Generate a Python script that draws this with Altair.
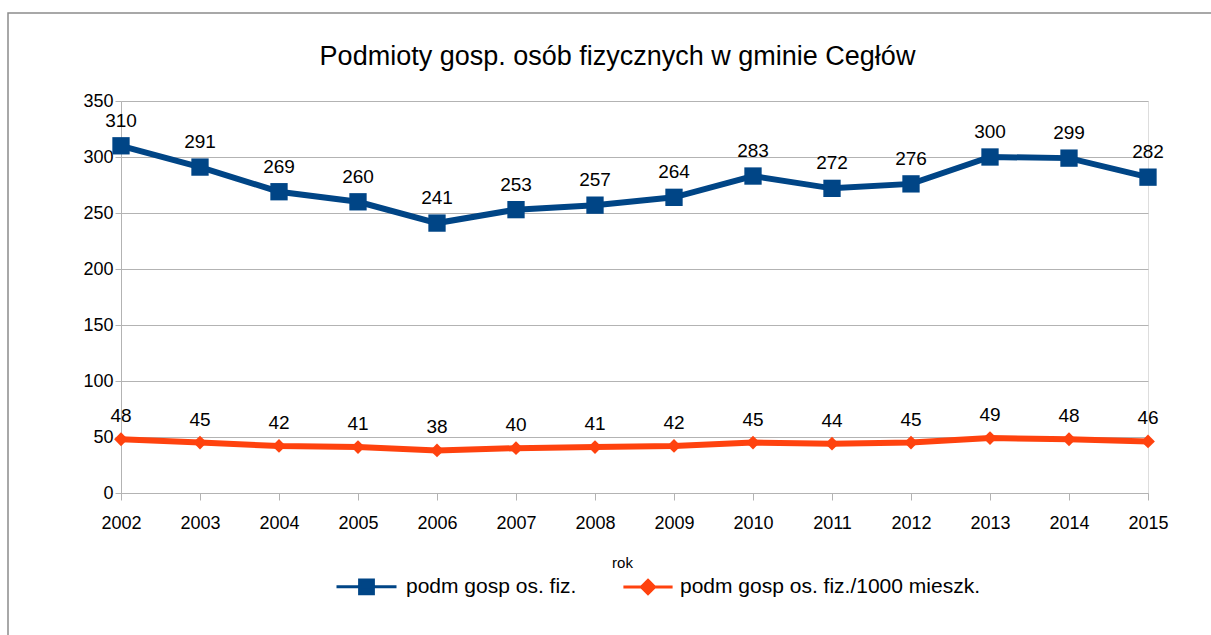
import altair as alt
import pandas as pd

# Economic entities run by natural persons, Cegłów commune
years = [2002, 2003, 2004, 2005, 2006, 2007, 2008, 2009, 2010, 2011, 2012, 2013, 2014, 2015]
entities = [310, 291, 269, 260, 241, 253, 257, 264, 283, 272, 276, 300, 299, 282]
entities_per_1000 = [48, 45, 42, 41, 38, 40, 41, 42, 45, 44, 45, 49, 48, 46]

series_names = ["podm gosp os. fiz.", "podm gosp os. fiz./1000 mieszk."]
series_colors = ["#004586", "#ff420e"]
# legend glyphs: a line segment with the series marker on it
legend_glyphs = [
    "M-1,0H1M-0.23,-0.23H0.23V0.23H-0.23Z",
    "M-0.57,0H1.07M0.25,-0.22L0.47,0L0.25,0.22L0.03,0Z",
]
y_ticks = [0, 50, 100, 150, 200, 250, 300, 350]

FONT = "Liberation Sans"

rows = []
for yr, a, b in zip(years, entities, entities_per_1000):
    rows.append({"rok": str(yr), "value": a, "series": series_names[0]})
    rows.append({"rok": str(yr), "value": b, "series": series_names[1]})
df = pd.DataFrame(rows)

PLOT_W, PLOT_H = 1027, 392

x = alt.X(
    "rok:O",
    scale=alt.Scale(type="point", padding=0),
    axis=alt.Axis(
        title="rok",
        titleFont=FONT,
        titleFontSize=15,
        titleFontWeight="normal",
        titleColor="#000000",
        titleX=501,
        titleY=69,
        titleBaseline="middle",
        labelFont=FONT,
        labelFontSize=18,
        labelColor="#000000",
        labelAngle=0,
        labelPadding=14,
        tickSize=7,
        tickColor="#b3b3b3",
        domainColor="#b3b3b3",
        grid=False,
    ),
)

y = alt.Y(
    "value:Q",
    scale=alt.Scale(domain=[0, 350], nice=False),
    axis=alt.Axis(
        title=None,
        values=y_ticks,
        labelFont=FONT,
        labelFontSize=18,
        labelColor="#000000",
        labelPadding=2,
        tickSize=6,
        tickColor="#b3b3b3",
        domainColor="#b3b3b3",
        gridColor="#b3b3b3",
        gridWidth=1,
    ),
)

base = alt.Chart(df).encode(x=x, y=y)

s0 = base.transform_filter(alt.datum.series == series_names[0])
s1 = base.transform_filter(alt.datum.series == series_names[1])

line0 = s0.mark_line(strokeWidth=6, color=series_colors[0])
line1 = s1.mark_line(strokeWidth=6, color=series_colors[1])
squares = s0.mark_point(shape="square", filled=True, size=300, opacity=1, color=series_colors[0])
diamonds = s1.mark_point(shape="diamond", filled=True, size=190, opacity=1, color=series_colors[1])

text_style = dict(font=FONT, fontSize=19, color="#000000", baseline="middle")
labels0 = s0.mark_text(dy=-25, **text_style).encode(text=alt.Text("value:Q"))
labels1 = s1.mark_text(dy=-23, **text_style).encode(text=alt.Text("value:Q"))

# legend-only layer: no rows survive the filter, scales carry explicit domains
legend_kw = dict(
    title=None,
    orient="none",
    legendX=214,
    legendY=454,
    direction="horizontal",
    columns=2,
    columnPadding=32,
    padding=0,
    labelFont=FONT,
    labelFontSize=21,
    labelColor="#000000",
    labelOffset=8,
    labelLimit=600,
    symbolSize=3600,
    symbolStrokeWidth=3,
    symbolOpacity=1,
)
legend_layer = base.transform_filter("false").mark_point(opacity=1, strokeWidth=3).encode(
    fill=alt.Fill("series:N", scale=alt.Scale(domain=series_names, range=series_colors),
                  legend=alt.Legend(**legend_kw)),
    stroke=alt.Stroke("series:N", scale=alt.Scale(domain=series_names, range=series_colors),
                      legend=alt.Legend(**legend_kw)),
    shape=alt.Shape("series:N", scale=alt.Scale(domain=series_names, range=legend_glyphs),
                    legend=alt.Legend(**legend_kw)),
)

frame = alt.Chart(pd.DataFrame({"f": [0]})).mark_rect(
    fill=None, stroke="#8c8c8c", strokeWidth=1.5
).encode(
    x=alt.value(-113), x2=alt.value(1200), y=alt.value(-88), y2=alt.value(600)
)

chart = (
    alt.layer(frame, line0, line1, squares, diamonds, labels0, labels1, legend_layer)
    .properties(
        width=PLOT_W,
        height=PLOT_H,
        title=alt.TitleParams(
            "Podmioty gosp. osób fizycznych w gminie Cegłów",
            font=FONT,
            fontSize=27,
            fontWeight="normal",
            color="#000000",
            anchor="middle",
            baseline="alphabetic",
            dx=-17,
            dy=110,
            offset=30,
        ),
        autosize=alt.AutoSizeParams(type="none"),
        padding={"left": 121, "top": 101, "right": 63, "bottom": 142},
    )
    .configure_view(stroke="#b3b3b3", strokeWidth=1)
    .configure(background="#ffffff")
)

chart.save("out.html", embed_options={"renderer": "svg", "actions": False})
